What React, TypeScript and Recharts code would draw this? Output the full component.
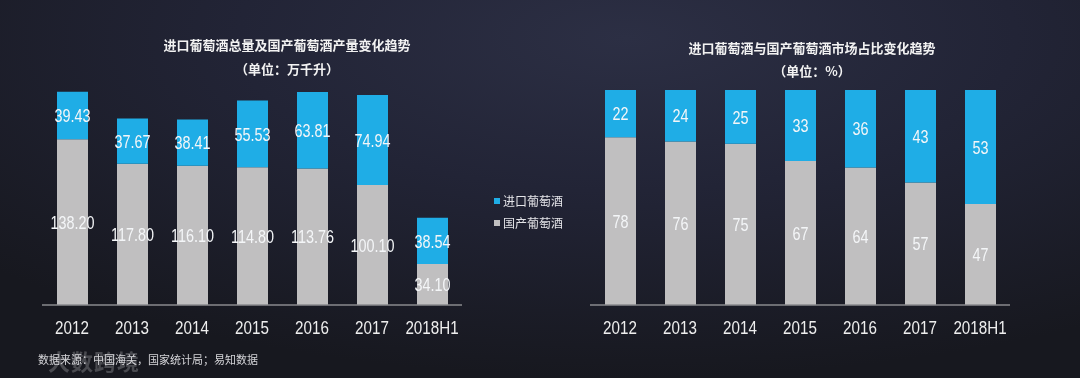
import React from 'react';
import { BarChart, Bar, XAxis, YAxis, LabelList } from 'recharts';

const years = ['2012', '2013', '2014', '2015', '2016', '2017', '2018H1'];
const importVolume = [39.43, 37.67, 38.41, 55.53, 63.81, 74.94, 38.54];
const domesticVolume = [138.2, 117.8, 116.1, 114.8, 113.76, 100.1, 34.1];
const importShare = [22, 24, 25, 33, 36, 43, 53];
const domesticShare = [78, 76, 75, 67, 64, 57, 47];

const BLUE = '#1fade6';
const GRAY = '#c0bfc0';
const SANS = "'Liberation Sans', Arial, sans-serif";
const CJK = "'Noto Sans CJK SC', 'Noto Sans', sans-serif";

const volumeData = years.map((year, i) => ({
  year,
  imported: importVolume[i],
  domestic: domesticVolume[i],
}));

const shareData = years.map((year, i) => ({
  year,
  imported: importShare[i],
  domestic: domesticShare[i],
}));

// Arial-like digits squeezed horizontally, like the source slide
function makeLabel(fmt: (v: unknown) => string) {
  return (props: any) => {
    const { x, y, width, height, value } = props;
    const cx = Number(x) + Number(width) / 2;
    const cy = Number(y) + Number(height) / 2;
    return (
      <text
        transform={`translate(${cx},${cy}) scale(0.8,1)`}
        textAnchor="middle"
        dominantBaseline="central"
        fill="#f4f6f8"
        fontSize={18}
        fontFamily={SANS}
      >
        {fmt(value)}
      </text>
    );
  };
}

function YearTick(props: any) {
  const { x, y, payload } = props;
  return (
    <text
      transform={`translate(${x},${y + 29}) scale(0.8,1)`}
      textAnchor="middle"
      fill="#eeeeee"
      fontSize={19}
      fontFamily={SANS}
    >
      {payload.value}
    </text>
  );
}

interface StackProps {
  data: typeof volumeData;
  max: number;
  top: number;
  fmt: (v: unknown) => string;
}

function StackChart({ data, max, top, fmt }: StackProps) {
  const label = makeLabel(fmt);
  return (
    <BarChart
      width={504}
      height={345}
      data={data}
      margin={{ top, right: 42, bottom: 10, left: 42 }}
    >
      <XAxis
        dataKey="year"
        height={30}
        axisLine={{ stroke: '#8a8a8e', strokeWidth: 1.5 }}
        tickLine={false}
        tickSize={0}
        tickMargin={0}
        tick={<YearTick />}
        interval={0}
      />
      <YAxis hide domain={[0, max]} />
      <Bar dataKey="domestic" stackId="a" fill={GRAY} barSize={31} isAnimationActive={false}>
        <LabelList dataKey="domestic" content={label} />
      </Bar>
      <Bar dataKey="imported" stackId="a" fill={BLUE} barSize={31} isAnimationActive={false}>
        <LabelList dataKey="imported" content={label} />
      </Bar>
    </BarChart>
  );
}

const titleStyle: React.CSSProperties = {
  position: 'absolute',
  color: '#f2f2f2',
  fontFamily: CJK,
  fontWeight: 700,
  fontSize: 13,
  textAlign: 'center',
  width: 400,
  whiteSpace: 'nowrap',
};

export default function App() {
  return (
    <div
      style={{
        position: 'fixed',
        left: 0,
        top: 0,
        width: 1080,
        height: 378,
        overflow: 'hidden',
        background:
          'radial-gradient(ellipse 80% 90% at 58% 10%, #2c2f44 0%, #222436 45%, #17181f 100%)',
      }}
    >
      <div style={{ ...titleStyle, left: 87, top: 35 }}>进口葡萄酒总量及国产葡萄酒产量变化趋势</div>
      <div style={{ ...titleStyle, left: 87, top: 59 }}>（单位：万千升）</div>
      <div style={{ ...titleStyle, left: 612, top: 38 }}>进口葡萄酒与国产葡萄酒市场占比变化趋势</div>
      <div style={{ ...titleStyle, left: 612, top: 61 }}>（单位：%）</div>

      <div style={{ position: 'absolute', left: 0, top: 0 }}>
        <StackChart data={volumeData} max={200} top={65} fmt={(v) => Number(v).toFixed(2)} />
      </div>
      <div style={{ position: 'absolute', left: 548, top: 0 }}>
        <StackChart data={shareData} max={100} top={90} fmt={(v) => String(v)} />
      </div>

      <div
        style={{
          position: 'absolute',
          left: 494,
          top: 190,
          fontFamily: CJK,
          fontSize: 12,
          color: '#e4e4e8',
          lineHeight: '22px',
        }}
      >
        {[
          { name: '进口葡萄酒', color: BLUE },
          { name: '国产葡萄酒', color: GRAY },
        ].map((item) => (
          <div key={item.name} style={{ display: 'flex', alignItems: 'center' }}>
            <span
              style={{ width: 6, height: 6, background: item.color, marginRight: 3, display: 'inline-block' }}
            />
            {item.name}
          </div>
        ))}
      </div>

      <div
        style={{
          position: 'absolute',
          left: 12,
          top: 344,
          fontFamily: CJK,
          fontSize: 22,
          fontWeight: 700,
          color: 'rgba(255,255,255,0.22)',
          whiteSpace: 'nowrap',
          letterSpacing: 1,
        }}
      >
        <span style={{ marginLeft: 36 }}>大数跨境</span>
      </div>
      <div
        style={{
          position: 'absolute',
          left: 38,
          top: 351,
          fontFamily: CJK,
          fontSize: 11,
          color: '#d4d4d8',
          whiteSpace: 'nowrap',
        }}
      >
        数据来源：中国海关，国家统计局；易知数据
      </div>
    </div>
  );
}
